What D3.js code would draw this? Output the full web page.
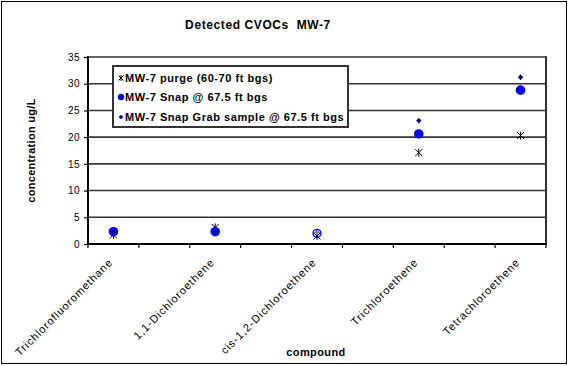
<!DOCTYPE html>
<html><head><meta charset="utf-8">
<script src="https://cdn.jsdelivr.net/npm/d3@7"></script>
<style>body{margin:0;background:#fff}svg{display:block;font-family:"Liberation Sans",Arial,sans-serif}</style>
</head><body><svg id="c" width="570" height="366"></svg>
<script>
const categories = ["Trichlorofluoromethane","","1,1-Dichloroethene","","cis-1,2-Dichloroethene","","Trichloroethene","","Tetrachloroethene"];
const purge = [1.7, null, 3.1, null, 1.5, null, 17.1, null, 20.3];
const snap = [2.3, null, 2.3, null, 2.0, null, 20.6, null, 28.8];
const snapHollow = [false, null, false, null, true, null, false, null, false];
const grab = [2.2, null, 2.3, null, 2.0, null, 23.1, null, 31.2];
const yTicks = [0,5,10,15,20,25,30,35];
const seriesNames = ["MW-7 purge (60-70 ft bgs)","MW-7 Snap @ 67.5 ft bgs","MW-7 Snap Grab sample @ 67.5 ft bgs"];

const svg = d3.select("#c");
const L=88,R=546,T=57,B=244;
svg.append("rect").attr("x",1.5).attr("y",1.5).attr("width",565).attr("height",362).attr("fill","#fff").attr("stroke","#000").attr("stroke-width",1);

const x = d3.scaleBand().domain(d3.range(categories.length)).range([L,R]);
const y = d3.scaleLinear().domain([0,35]).range([B,T]);

// gridlines
svg.append("g").selectAll("line").data(yTicks.filter(d=>d>0)).join("line")
  .attr("x1",L).attr("x2",R).attr("y1",d=>y(d)).attr("y2",d=>y(d))
  .attr("stroke","#333").attr("stroke-width",1.6);
// right border
svg.append("line").attr("x1",R).attr("x2",R).attr("y1",T-0.8).attr("y2",B).attr("stroke","#333").attr("stroke-width",2);

// y axis
const ya = svg.append("g").attr("transform",`translate(${L},0)`)
  .call(d3.axisLeft(y).tickValues(yTicks).tickSize(4).tickPadding(4));
ya.select(".domain").attr("stroke","#000").attr("stroke-width",2).attr("d",`M0,${T-1}V${B}`);
ya.selectAll(".tick line").attr("stroke","#000").attr("stroke-width",1.2);
ya.selectAll("text").attr("font-size",10).attr("font-family","Liberation Sans, Arial").attr("fill","#000").attr("letter-spacing",0.4);

// x axis
const xg = svg.append("g");
xg.append("line").attr("x1",L-1).attr("x2",R+1).attr("y1",B).attr("y2",B).attr("stroke","#000").attr("stroke-width",2);
const edges = categories.map((d,i)=>x(i)).concat([x.range()[1]]);
xg.selectAll("line.t").data(edges).join("line").attr("class","t")
  .attr("x1",d=>d).attr("x2",d=>d).attr("y1",B).attr("y2",B+4).attr("stroke","#000").attr("stroke-width",1.2);
xg.selectAll("text").data(categories.map((c,i)=>({c,i})).filter(d=>d.c)).join("text")
  .attr("transform",d=>`translate(${x(d.i)+x.bandwidth()/2},${B+19}) rotate(-45)`)
  .attr("text-anchor","end").attr("font-size",11).attr("letter-spacing",0.9).attr("fill","#000").text(d=>d.c);

// purge asterisks
function asterisk(g, cx, cy, s){
  const p = d3.path();
  p.moveTo(cx-s,cy-s); p.lineTo(cx+s,cy+s);
  p.moveTo(cx+s,cy-s); p.lineTo(cx-s,cy+s);
  p.moveTo(cx,cy-s-0.5); p.lineTo(cx,cy+s+0.5);
  g.append("path").attr("d",p.toString()).attr("stroke","#000").attr("stroke-width",1).attr("fill","none");
}
const pts = svg.append("g");
purge.forEach((v,i)=>{ if(v!=null) asterisk(pts, x(i)+x.bandwidth()/2, y(v), 3.5); });
// snap circles
pts.selectAll("circle").data(snap.map((v,i)=>({v,i})).filter(d=>d.v!=null)).join("circle")
  .attr("cx",d=>x(d.i)+x.bandwidth()/2).attr("cy",d=>y(d.v)).attr("r",d=>snapHollow[d.i]?4:4.8)
  .attr("fill",d=>snapHollow[d.i]?"none":"#0000ff").attr("stroke","#0000ff").attr("stroke-width",d=>snapHollow[d.i]?1.3:0);
// grab diamonds
pts.selectAll("path.g").data(grab.map((v,i)=>({v,i})).filter(d=>d.v!=null)).join("path").attr("class","g")
  .attr("d",d3.symbol(d3.symbolDiamond2,22)())
  .attr("transform",d=>`translate(${x(d.i)+x.bandwidth()/2},${y(d.v)}) scale(0.9,1)`)
  .attr("fill",d=>snapHollow[d.i]?"none":"#000080").attr("stroke","#000080").attr("stroke-width",d=>snapHollow[d.i]?1:0);

// legend
const lg = svg.append("g");
lg.append("rect").attr("x",113).attr("y",66).attr("width",235).attr("height",61).attr("fill","#fff").attr("stroke","#333").attr("stroke-width",2);
const rowY = [78, 97, 117];
asterisk(lg, 121, rowY[0], 2.5);
lg.append("circle").attr("cx",121).attr("cy",rowY[1]).attr("r",3.2).attr("fill","#0000ff");
lg.append("path").attr("d",d3.symbol(d3.symbolDiamond2,14)()).attr("transform",`translate(121,${rowY[2]})`).attr("fill","#000080");
lg.selectAll("text").data(seriesNames).join("text")
  .attr("x",125).attr("y",(d,i)=>rowY[i]+4).attr("font-size",11).attr("font-weight","bold").attr("letter-spacing",0.55).attr("fill","#000").text(d=>d);

// titles
svg.append("text").attr("x",258).attr("y",29).attr("text-anchor","middle").attr("font-size",12).attr("font-weight","bold").attr("letter-spacing",0.6).style("white-space","pre").text("Detected CVOCs  MW-7");
svg.append("text").attr("transform",`translate(35,${(T+B)/2}) rotate(-90)`).attr("text-anchor","middle").attr("font-size",11).attr("font-weight","bold").attr("letter-spacing",0.3).text("concentration ug/L");
svg.append("text").attr("x",316).attr("y",356).attr("text-anchor","middle").attr("font-size",11).attr("font-weight","bold").attr("letter-spacing",0.4).text("compound");
</script></body></html>
